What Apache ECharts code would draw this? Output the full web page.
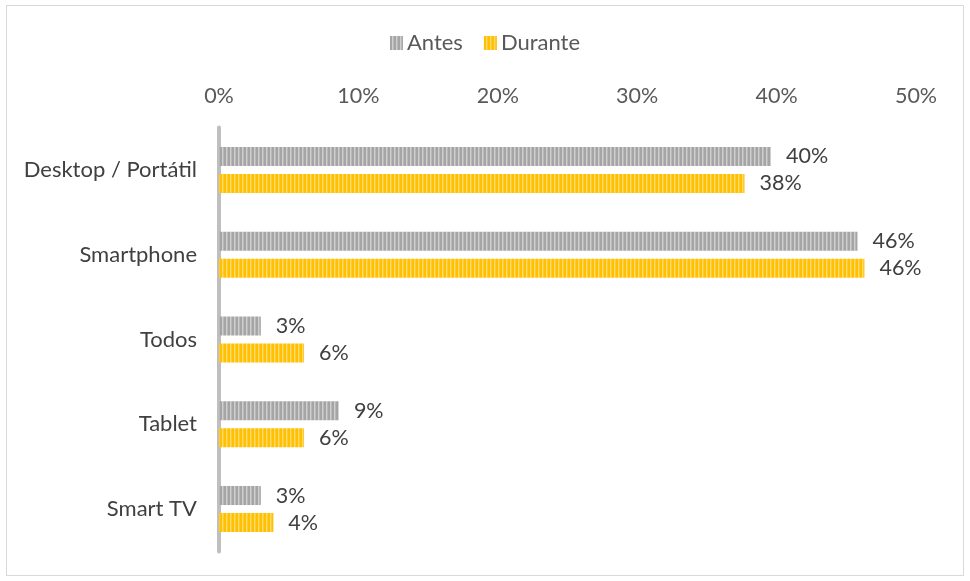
<!DOCTYPE html>
<html>
<head>
<meta charset="utf-8">
<script src="https://cdn.jsdelivr.net/npm/echarts@6/dist/echarts.min.js"></script>
<style>
  html, body { margin: 0; padding: 0; background: #fff; }
  #frame { position: absolute; left: 6px; top: 5px; width: 958px; height: 571px; border: 1px solid #d9d9d9; box-sizing: border-box; }
  #chart { position: absolute; left: 0; top: 0; width: 970px; height: 581px; }
</style>
</head>
<body>
<div id="frame"></div>
<div id="chart"></div>
<script>
// Device usage share, before vs during
const categories = ['Desktop / Portátil', 'Smartphone', 'Todos', 'Tablet', 'Smart TV'];
const antes = [39.6, 45.8, 3.0, 8.6, 3.0];
const durante = [37.7, 46.3, 6.1, 6.1, 3.9];
const seriesNames = ['Antes', 'Durante'];
const tickLabels = ['0%', '10%', '20%', '30%', '40%', '50%'];

// Vertical-stripe fill used for bars and legend swatches
function stripes(colors) {
  const c = document.createElement('canvas');
  c.width = colors.length; c.height = 4;
  const ctx = c.getContext('2d');
  colors.forEach((col, i) => { ctx.fillStyle = col; ctx.fillRect(i, 0, 1, 4); });
  return { image: c, repeat: 'repeat' };
}
const grayFill = stripes(['#a5a5a5', '#a5a5a5', '#cfcfcf', '#b8b8b8']);
const goldFill = stripes(['#ffc000', '#ffc000', '#ffdb6e', '#ffcb33']);

const font = 'Lato, "Liberation Sans", sans-serif';
const fs = 21.5;
const chart = echarts.init(document.getElementById('chart'), null, { renderer: 'canvas' });

const labelCfg = {
  show: true, position: 'right', distance: 15,
  color: '#404040', fontSize: fs, fontFamily: font,
  formatter: p => Math.round(p.value) + '%'
};

chart.setOption({
  animation: false,
  legend: {
    top: 27, left: 'center', itemWidth: 13, itemHeight: 14, itemGap: 21,
    icon: 'rect',
    textStyle: { color: '#595959', fontSize: 22, fontFamily: font, padding: [0, 0, 0, -1] },
    data: seriesNames
  },
  grid: { left: 219, right: 54, top: 127.5, bottom: 29.5, containLabel: false },
  xAxis: {
    type: 'value', position: 'top', min: 0, max: 50, interval: 10,
    axisLine: { show: false }, axisTick: { show: false }, splitLine: { show: false },
    axisLabel: {
      margin: 20, color: '#595959', fontSize: fs, fontFamily: font,
      formatter: v => tickLabels[Math.round(v / 10)]
    }
  },
  yAxis: {
    type: 'category', inverse: true, data: categories,
    axisLine: { show: true, lineStyle: { color: '#bfbfbf', width: 4 } },
    axisTick: { show: false },
    axisLabel: { margin: 22, color: '#404040', fontSize: 22, fontFamily: font }
  },
  series: [
    { name: seriesNames[0], type: 'bar', data: antes, barWidth: 19, barGap: '42%',
      itemStyle: { color: grayFill }, label: labelCfg },
    { name: seriesNames[1], type: 'bar', data: durante, barWidth: 19, barGap: '42%',
      itemStyle: { color: goldFill }, label: labelCfg }
  ]
});
</script>
</body>
</html>
